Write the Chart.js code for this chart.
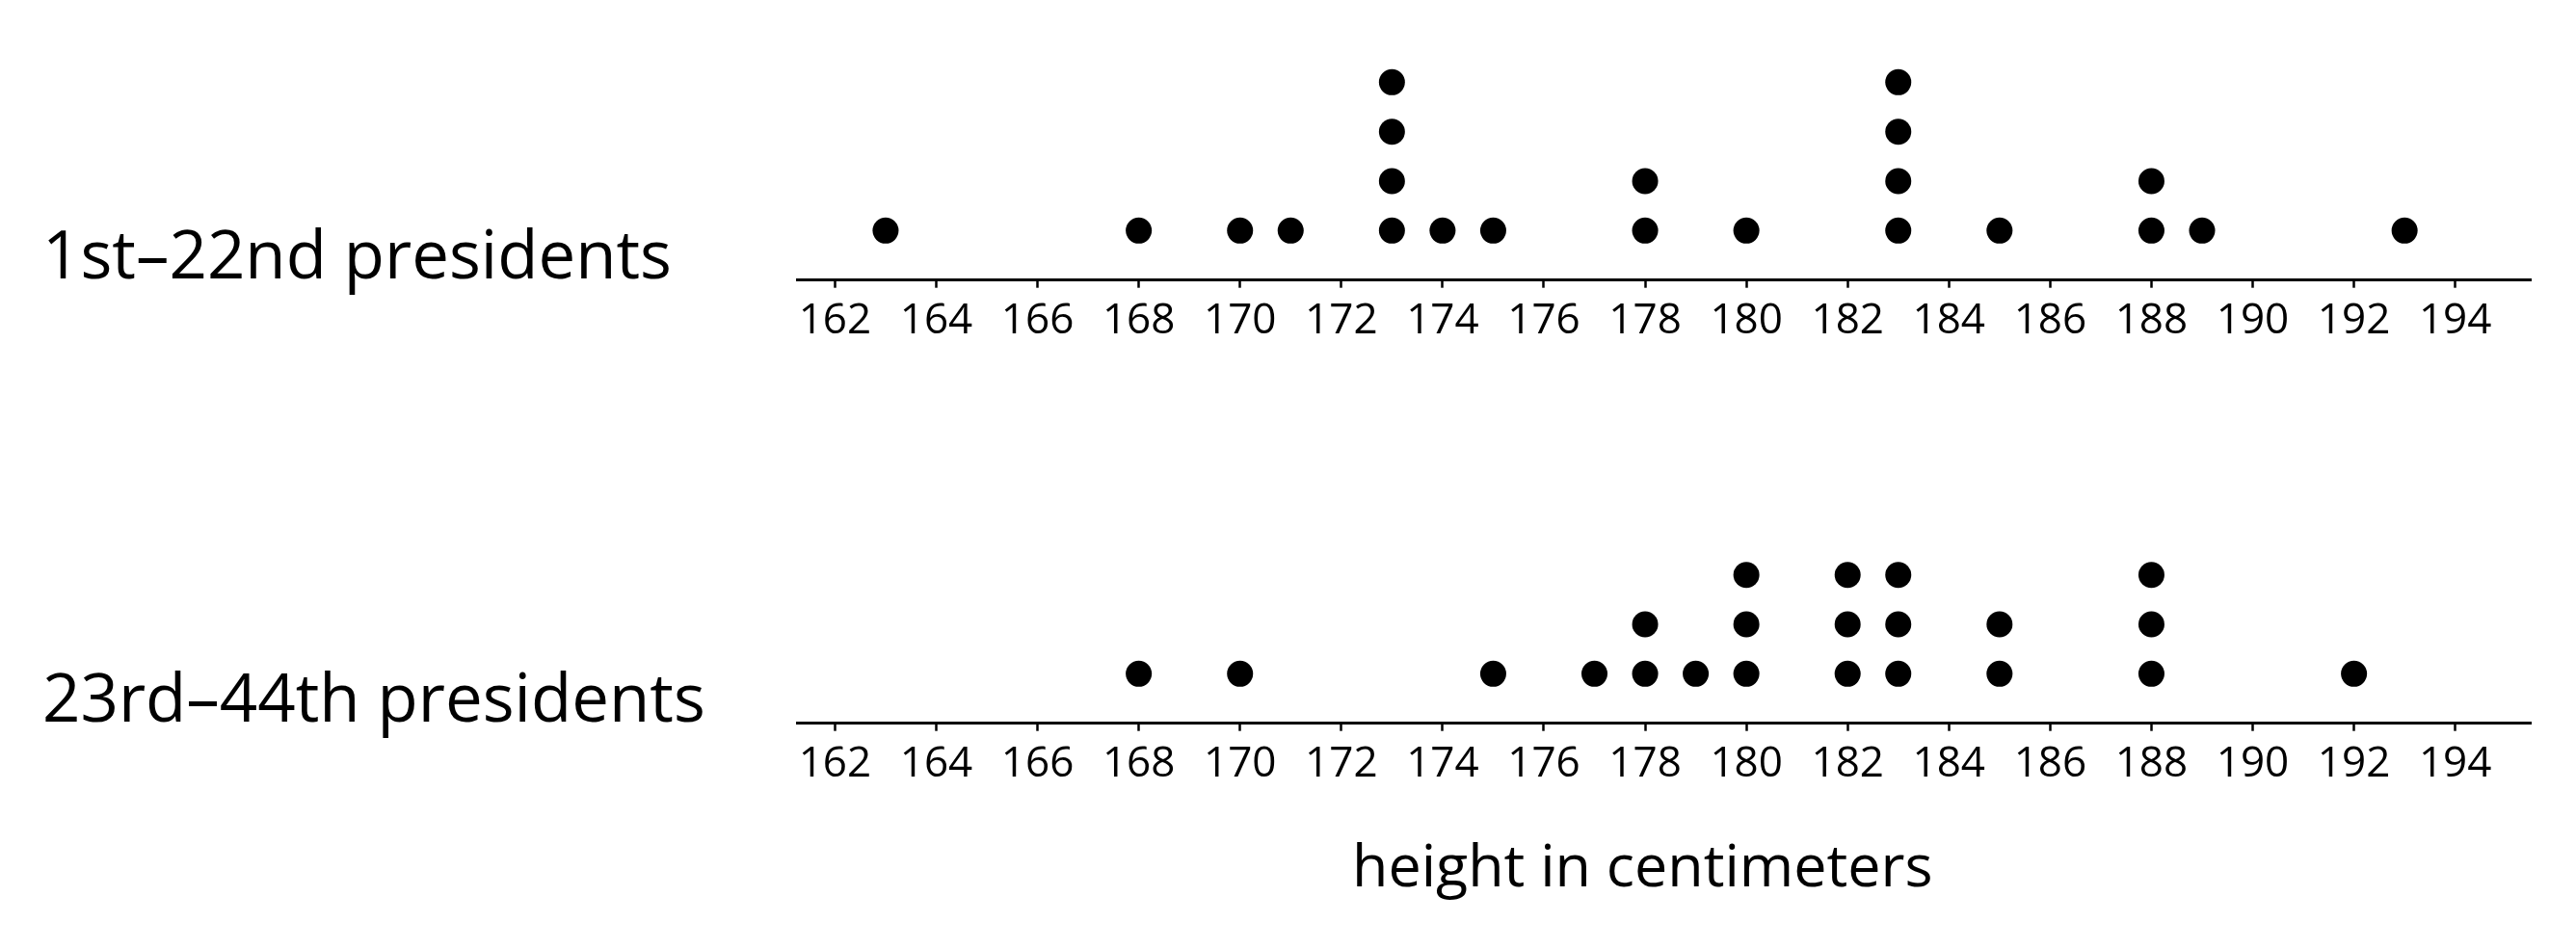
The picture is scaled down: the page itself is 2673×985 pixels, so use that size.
<!DOCTYPE html>
<html lang="en">
<head>
    <meta charset="UTF-8">
    <title>Heights of presidents</title>
    <script src="https://cdn.jsdelivr.net/npm/chart.js"></script>
    <style>
        body {
            margin: 0;
            background: #ffffff;
            font-family: "Open Sans", sans-serif;
            color: #000000;
        }

        #page {
            position: relative;
            width: 2673px;
            height: 985px;
            overflow: hidden;
        }

        .plot {
            position: absolute;
            left: 0;
            width: 2673px;
            height: 400px;
        }

        .label {
            position: absolute;
            line-height: 1;
            white-space: nowrap;
        }

        .group-label {
            left: 44px;
            font-size: 69px;
        }

        #axis-title {
            left: 1403px;
            top: 866px;
            font-size: 61px;
        }
    </style>
</head>
<body>
<div id="page">
    <div class="plot" style="top: 0px;"><canvas id="chartEarly"></canvas></div>
    <div class="plot" style="top: 460px;"><canvas id="chartLate"></canvas></div>

    <div class="label group-label" id="labelEarly" style="top: 228px;"></div>
    <div class="label group-label" id="labelLate" style="top: 688px;"></div>
    <div class="label" id="axis-title"></div>
</div>

<script>
    // heights (cm), one entry per president
    const heightsEarly = [163, 168, 170, 171, 173, 173, 173, 173, 174, 175, 178, 178,
                          180, 183, 183, 183, 183, 185, 188, 188, 189, 193];
    const heightsLate = [168, 170, 175, 177, 178, 178, 179, 180, 180, 180, 182, 182,
                         182, 183, 183, 183, 185, 185, 188, 188, 188, 192];

    const groupLabels = ['1st\u201322nd presidents', '23rd\u201344th presidents'];
    const axisTitle = 'height in centimeters';
    const tickValues = [162, 164, 166, 168, 170, 172, 174, 176, 178, 180,
                        182, 184, 186, 188, 190, 192, 194];

    document.getElementById('labelEarly').textContent = groupLabels[0];
    document.getElementById('labelLate').textContent = groupLabels[1];
    document.getElementById('axis-title').textContent = axisTitle;

    // stack repeated values into a column of dots
    function toDots(heights) {
        const seen = {};
        return heights.map(h => {
            seen[h] = (seen[h] || 0) + 1;
            return { x: h, y: seen[h] };
        });
    }

    function makeDotPlot(canvasId, heights) {
        const ctx = document.getElementById(canvasId).getContext('2d');
        return new Chart(ctx, {
            type: 'scatter',
            data: {
                datasets: [{
                    data: toDots(heights),
                    backgroundColor: '#000000',
                    borderWidth: 0,
                    pointRadius: 13.5,
                    pointHoverRadius: 13.5,
                    clip: false
                }]
            },
            options: {
                responsive: true,
                maintainAspectRatio: false,
                animation: false,
                events: [],
                layout: {
                    padding: { left: 827, right: 46.5, top: 34, bottom: 0 }
                },
                plugins: {
                    legend: { display: false },
                    tooltip: { enabled: false }
                },
                scales: {
                    x: {
                        type: 'linear',
                        min: 161.25,
                        max: 195.5,
                        afterFit: s => { s.height = 109.3; },
                        afterBuildTicks: s => { s.ticks = tickValues.map(v => ({ value: v })); },
                        border: { display: true, color: '#000000', width: 3 },
                        grid: {
                            drawOnChartArea: false,
                            drawTicks: true,
                            tickLength: 8,
                            tickColor: '#000000',
                            tickWidth: 2.5
                        },
                        ticks: {
                            color: '#000000',
                            padding: 8,
                            maxRotation: 0,
                            autoSkip: false,
                            font: { family: 'Open Sans', size: 44 }
                        }
                    },
                    y: {
                        display: false,
                        min: 0,
                        max: 5
                    }
                }
            }
        });
    }

    makeDotPlot('chartEarly', heightsEarly);
    makeDotPlot('chartLate', heightsLate);
</script>
</body>
</html>
